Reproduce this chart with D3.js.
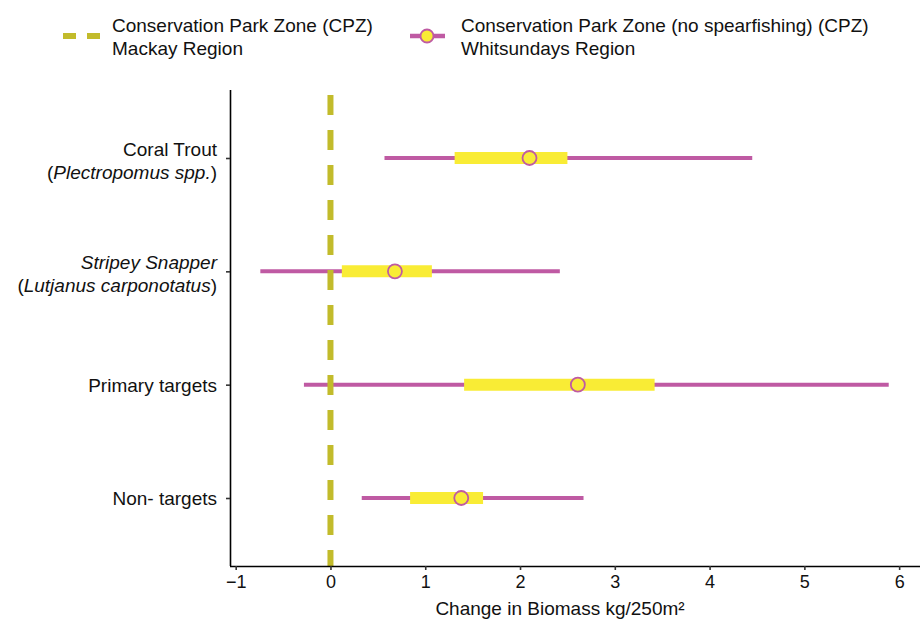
<!DOCTYPE html>
<html>
<head>
<meta charset="utf-8">
<script src="https://cdn.jsdelivr.net/npm/d3@7"></script>
<style>
  body { margin: 0; background: #fff; }
  svg { display: block; font-family: "Liberation Sans", Arial, sans-serif; }
</style>
</head>
<body>
<svg id="chart" width="923" height="619"></svg>
<script>
// Groups, top to bottom
const groups = ["Coral Trout", "Stripey Snapper", "Primary targets", "Non- targets"];
// Estimated change and intervals (kg/250m²)
const estimate = [2.10, 0.68, 2.61, 1.38];
const innerLow = [1.31, 0.12, 1.41, 0.84];
const innerHigh = [2.50, 1.07, 3.42, 1.61];
const outerLow = [0.57, -0.74, -0.28, 0.33];
const outerHigh = [4.45, 2.42, 5.89, 2.67];
const xTicks = [-1, 0, 1, 2, 3, 4, 5, 6];
const referenceValue = [0];

const magenta = "#bf5aa3";
const yellow = "#f9ec35";
const olive = "#c2bb2b";

const svg = d3.select("#chart");
const m = { left: 230, right: 920, top: 90, bottom: 566 };

const x = d3.scaleLinear().domain([-1.06, 6.22]).range([m.left, m.right]);
const y = d3.scalePoint().domain(groups).range([m.top, m.bottom]).padding(0.6);

const rows = groups.map((g, i) => ({
  g, est: estimate[i], lo: innerLow[i], hi: innerHigh[i], olo: outerLow[i], ohi: outerHigh[i]
}));

// Outer interval lines
svg.append("g").selectAll("line").data(rows).join("line")
  .attr("x1", d => x(d.olo)).attr("x2", d => x(d.ohi))
  .attr("y1", d => y(d.g)).attr("y2", d => y(d.g))
  .attr("stroke", magenta).attr("stroke-width", 4);

// Reference line at zero
svg.append("g").selectAll("line").data(referenceValue).join("line")
  .attr("x1", d => x(d)).attr("x2", d => x(d))
  .attr("y1", m.top + 5).attr("y2", m.bottom)
  .attr("stroke", olive).attr("stroke-width", 6)
  .attr("stroke-dasharray", "20,15");

// Inner intervals
svg.append("g").selectAll("line").data(rows).join("line")
  .attr("x1", d => x(d.lo)).attr("x2", d => x(d.hi))
  .attr("y1", d => y(d.g)).attr("y2", d => y(d.g))
  .attr("stroke", yellow).attr("stroke-width", 12);

// Point estimates
svg.append("g").selectAll("circle").data(rows).join("circle")
  .attr("cx", d => x(d.est)).attr("cy", d => y(d.g)).attr("r", 7)
  .attr("fill", yellow).attr("stroke", magenta).attr("stroke-width", 1.8);

// X axis
const xAxis = svg.append("g").attr("transform", `translate(0,${m.bottom})`)
  .call(d3.axisBottom(x).tickValues(xTicks).tickSize(4).tickSizeOuter(0)
    .tickFormat(d => d < 0 ? "\u2212" + Math.abs(d) : String(d)));
xAxis.select(".domain").attr("stroke", "#000").attr("stroke-width", 1.6)
  .attr("d", `M${m.left},0.5H${m.right}`);
xAxis.selectAll(".tick line").attr("stroke", "#333").attr("stroke-width", 1.6);
xAxis.selectAll(".tick text").attr("font-size", 18).attr("fill", "#111")
  .attr("y", 22).attr("dy", 0);

// Y axis
const yAxis = svg.append("g").attr("transform", `translate(${m.left},0)`)
  .call(d3.axisLeft(y).tickSize(4).tickSizeOuter(0).tickFormat(""));
yAxis.select(".domain").attr("stroke", "#000").attr("stroke-width", 1.6)
  .attr("d", `M0.5,${m.top}V${m.bottom}`);
yAxis.selectAll(".tick line").attr("stroke", "#333").attr("stroke-width", 1.6);

// Y labels with italic species names
const labelX = 217;
const labelParts = {
  "Coral Trout": [
    [{ t: "Coral Trout", i: false }],
    [{ t: "(", i: false }, { t: "Plectropomus spp.", i: true }, { t: ")", i: false }]
  ],
  "Stripey Snapper": [
    [{ t: "Stripey Snapper", i: true }],
    [{ t: "(", i: false }, { t: "Lutjanus carponotatus", i: true }, { t: ")", i: false }]
  ],
  "Primary targets": [[{ t: "Primary targets", i: false }]],
  "Non- targets": [[{ t: "Non- targets", i: false }]]
};
const lab = svg.append("g").attr("font-size", 19).attr("fill", "#111");
groups.forEach(g => {
  const lines = labelParts[g];
  const n = lines.length;
  lines.forEach((parts, k) => {
    const t = lab.append("text").attr("x", labelX)
      .attr("y", y(g) + (k - (n - 1) / 2) * 23 + (n > 1 ? 9 : 7))
      .attr("text-anchor", "end");
    parts.forEach(p => t.append("tspan").text(p.t).attr("font-style", p.i ? "italic" : "normal"));
  });
});

// Axis title
svg.append("text").attr("x", 560).attr("y", 615)
  .attr("text-anchor", "middle").attr("font-size", 19).attr("fill", "#111")
  .text("Change in Biomass kg/250m\u00b2");

// Legend
const leg = svg.append("g").attr("font-size", 19).attr("fill", "#111");
leg.append("line").attr("x1", 63).attr("x2", 100).attr("y1", 36).attr("y2", 36)
  .attr("stroke", olive).attr("stroke-width", 6).attr("stroke-dasharray", "13,11");
leg.append("text").attr("x", 112).attr("y", 32).text("Conservation Park Zone (CPZ)");
leg.append("text").attr("x", 112).attr("y", 55).text("Mackay Region");
leg.append("line").attr("x1", 410).attr("x2", 445).attr("y1", 36).attr("y2", 36)
  .attr("stroke", magenta).attr("stroke-width", 4.5);
leg.append("circle").attr("cx", 427).attr("cy", 36).attr("r", 6.5)
  .attr("fill", yellow).attr("stroke", magenta).attr("stroke-width", 1.8);
leg.append("text").attr("x", 461).attr("y", 32).text("Conservation Park Zone (no spearfishing) (CPZ)");
leg.append("text").attr("x", 461).attr("y", 55).text("Whitsundays Region");
</script>
</body>
</html>
